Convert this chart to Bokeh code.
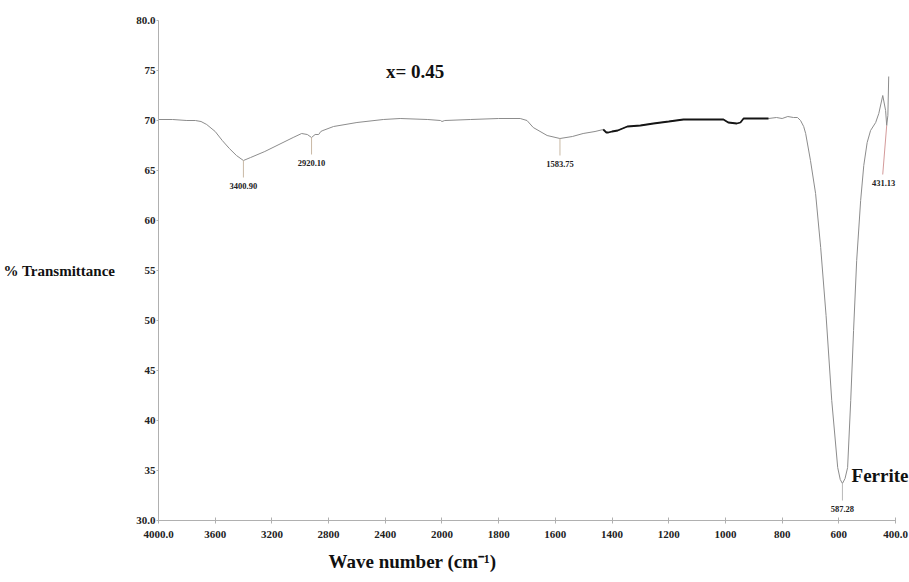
from bokeh.plotting import figure
from bokeh.models import Label, Range1d, FixedTicker, ColumnDataSource, Title
from bokeh.core.properties import value
from bokeh.embed import file_html
from bokeh.resources import INLINE

# ---------------- data ----------------
wavenumber = [4000, 3900, 3800, 3740, 3700, 3660, 3600, 3550, 3500, 3450,
              3400.9, 3350, 3250, 3150, 3050, 2990, 2950, 2920.1, 2895, 2870,
              2855, 2840, 2765, 2600, 2414, 2295, 2100, 2010, 2000, 1990,
              1900, 1800, 1724, 1700, 1678, 1629, 1583.75, 1540, 1502, 1460,
              1431, 1420, 1413, 1400, 1380, 1346, 1300, 1254, 1200, 1148,
              1050, 1007, 990, 960, 947, 936, 900, 848, 820, 800,
              780, 760, 746, 735, 724, 717, 700, 682, 664, 645,
              625, 604, 595, 587.28, 578, 569, 558, 548, 537, 523,
              512, 500, 488, 470, 459, 445, 435, 431.13, 427, 424]
transmittance = [70.1, 70.1, 70.0, 70.0, 69.9, 69.6, 68.9, 68.0, 67.2, 66.5,
                 66.0, 66.3, 66.9, 67.6, 68.3, 68.7, 68.6, 68.3, 68.6, 68.6,
                 68.9, 69.0, 69.4, 69.8, 70.1, 70.2, 70.1, 70.0, 69.9, 70.0,
                 70.1, 70.2, 70.2, 70.0, 69.3, 68.5, 68.2, 68.4, 68.7, 68.9,
                 69.1, 68.8, 68.8, 68.9, 69.0, 69.4, 69.5, 69.7, 69.9, 70.1,
                 70.1, 70.1, 69.8, 69.7, 69.8, 70.2, 70.2, 70.2, 70.3, 70.2,
                 70.4, 70.3, 70.3, 70.0, 69.4, 68.7, 66.0, 62.7, 57.3, 50.5,
                 42.0, 35.3, 34.1, 33.7, 34.2, 35.3, 42.0, 49.0, 56.0, 62.0,
                 65.5, 67.8, 69.0, 69.8, 70.7, 72.5, 71.0, 69.5, 70.5, 74.4]

dark_start, dark_end = 1431, 848   # wavenumber span drawn in black

peak_wn = [3400.90, 2920.10, 1583.75, 587.28, 431.13]
peak_tr = [66.0, 68.3, 68.2, 33.7, 69.5]
peak_text = ["3400.90", "2920.10", "1583.75", "587.28", "431.13"]

x_ticks = [4000, 3600, 3200, 2800, 2400, 2000, 1800, 1600, 1400, 1200, 1000, 800, 600, 400]
x_tick_text = ["4000.0", "3600", "3200", "2800", "2400", "2000", "1800", "1600",
               "1400", "1200", "1000", "800", "600", "400.0"]
y_ticks = [30, 35, 40, 45, 50, 55, 60, 65, 70, 75, 80]
y_tick_text = ["30.0", "35", "40", "45", "50", "55", "60", "65", "70", "75", "80.0"]


# axis is compressed 2x above 2000 cm-1 (as on the instrument printout)
def u(w):
    return w if w <= 2000 else 2000 + (w - 2000) / 2.0


SERIF = "Liberation Serif"
FRAME_L, FRAME_R = 157, 895          # pixel span of 4000..400
scale = (FRAME_R - FRAME_L) / (u(4000) - u(400))
x_end = u(400) - (909 - FRAME_R) / scale   # frame runs to the window edge

p = figure(width=909, height=582, output_backend="svg", toolbar_location=None,
           x_range=Range1d(u(4000), x_end), y_range=Range1d(30, 80),
           min_border_left=FRAME_L, min_border_right=0, min_border_top=20,
           min_border_bottom=62, background_fill_color="white",
           border_fill_color="white")
p.outline_line_color = None
p.xgrid.visible = False
p.ygrid.visible = False

xs = [u(w) for w in wavenumber]
p.line(xs, transmittance, line_color="#8c8c8c", line_width=1)

dk_x = [u(w) for w in wavenumber if dark_end <= w <= dark_start]
dk_y = [t for w, t in zip(wavenumber, transmittance) if dark_end <= w <= dark_start]
p.line(dk_x, dk_y, line_color="#151515", line_width=1.8)

# peak markers
lead = 1.7
gap = 0.8
dx_text = [0, 0, 0, 0, 11]
dx_lead = [0, 0, 0, 0, 14]
lead_col = ["#c9b8a4", "#c9b8a4", "#c9b8a4", "#b8b8b8", "#d49a9a"]
x0 = [u(w) for w in peak_wn]
y0 = peak_tr
x1 = [u(w + d) for w, d in zip(peak_wn, dx_lead)]
y1 = [t - lead - (3.2 if i == 4 else 0) for i, t in enumerate(peak_tr)]
p.segment(x0=x0, y0=y0, x1=x1, y1=y1, line_color=lead_col, line_width=1)
src = ColumnDataSource(dict(
    x=[u(w + d) for w, d in zip(peak_wn, dx_text)],
    y=[y - gap for y in y1],
    t=peak_text))
p.text(x="x", y="y", text="t", source=src, text_font=value(SERIF),
       text_font_style="bold", text_font_size="8.5px", text_align="center",
       text_baseline="middle", text_color="#222222")

# axes
for ax in (p.xaxis[0], p.yaxis[0]):
    ax.axis_line_color = "#b0b0b0"
    ax.major_tick_line_color = "#b0b0b0"
    ax.minor_tick_line_color = None
    ax.major_label_text_font = SERIF
    ax.major_label_text_font_style = "bold"
    ax.major_label_text_font_size = "11px"
    ax.major_label_text_color = "#222222"

xt = [int(u(w)) for w in x_ticks]
p.xaxis.ticker = FixedTicker(ticks=xt)
p.xaxis.major_label_overrides = {k: s for k, s in zip(xt, x_tick_text)}
p.xaxis.bounds = (u(400), u(4000))
p.xaxis.major_tick_in = 3
p.xaxis.major_tick_out = 3
p.xaxis.major_label_standoff = 7

p.yaxis.ticker = FixedTicker(ticks=y_ticks)
p.yaxis.major_label_overrides = {k: s for k, s in zip(y_ticks, y_tick_text)}
p.yaxis.major_tick_in = 0
p.yaxis.major_tick_out = 2
p.yaxis.major_label_standoff = 1
p.yaxis.axis_label = "% Transmittance"
p.yaxis.axis_label_orientation = "horizontal"
p.yaxis.axis_label_standoff = 18
p.yaxis.axis_label_text_font = SERIF
p.yaxis.axis_label_text_font_style = "bold"
p.yaxis.axis_label_text_font_size = "15px"
p.yaxis.axis_label_text_color = "#111111"

# x-axis title (sits left of centre in the reference)
xt_title = Title(text="Wave number (cm\u207b\u00b9)", align="left", offset=170,
                 text_font=SERIF, text_font_style="bold", text_font_size="19px",
                 text_color="#111111", standoff=17)
p.add_layout(xt_title, "below")

# texts inside the plot
p.add_layout(Label(x=2095, y=74.9, text="x= 0.45", text_font=SERIF,
                   text_font_style="bold", text_font_size="19px",
                   text_align="center", text_baseline="middle", text_color="#111111"))
p.add_layout(Label(x=555, y=34.5, text="Ferrite", text_font=SERIF,
                   text_font_style="bold", text_font_size="19px",
                   text_align="left", text_baseline="alphabetic", text_color="#111111"))

open("out.html", "w").write(file_html(p, INLINE))
